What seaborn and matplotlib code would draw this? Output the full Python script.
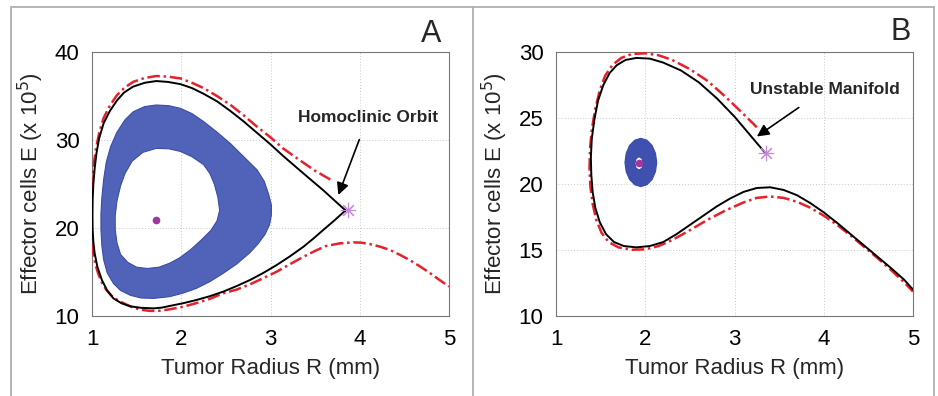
"""Phase portraits: homoclinic orbit (A) and unstable manifold (B)."""
import numpy as np
import matplotlib.pyplot as plt
import seaborn as sns
from matplotlib.path import Path
from matplotlib.patches import PathPatch
from matplotlib.lines import Line2D

# ---- panel A data (R in mm, E in 1e5 cells) ----
a_black_r = [3.84, 3.72, 3.59, 3.45, 3.3, 3.14, 3.0, 2.85, 2.7, 2.55, 2.4, 2.25, 2.12, 1.99,
             1.85, 1.72, 1.59, 1.46, 1.36, 1.28, 1.20, 1.13, 1.08, 1.05, 1.03, 1.015, 1.007,
             1.005, 1.007, 1.015, 1.03, 1.06, 1.11, 1.17, 1.24, 1.33, 1.43, 1.55, 1.69, 1.78,
             1.87, 2.02, 2.17, 2.32, 2.47, 2.62, 2.77, 2.92, 3.07, 3.22, 3.37, 3.48, 3.59, 3.72,
             3.84]
a_black_e = [22.0, 23.1, 24.3, 25.5, 26.8, 28.2, 29.5, 30.8, 32.1, 33.3, 34.4, 35.25, 35.9, 36.35,
             36.6, 36.7, 36.5, 36.06, 35.4, 34.5, 33.3, 31.9, 30.2, 28.5, 26.8, 25.0, 23.2,
             21.5, 19.8, 18.4, 17.1, 15.6, 14.1, 12.9, 12.0, 11.45, 11.1, 10.93, 10.87, 10.95,
             11.14, 11.45, 11.82, 12.25, 12.77, 13.4, 14.09, 14.9, 15.8, 16.8, 17.88, 18.8, 19.77,
             20.9, 22.0]
a_red_r = [3.67, 3.5, 3.3, 3.14, 3.0, 2.85, 2.7, 2.55, 2.4, 2.25, 2.12, 1.99, 1.85, 1.72, 1.59,
           1.46, 1.36, 1.28, 1.20, 1.13, 1.08, 1.04, 1.015, 1.0, 0.99, 0.99, 0.995, 1.005, 1.02,
           1.04, 1.07, 1.11, 1.16, 1.22, 1.28, 1.35, 1.45, 1.55, 1.65, 1.76, 1.87, 2.02, 2.17,
           2.32, 2.47, 2.62, 2.77, 2.92, 3.07, 3.22, 3.37, 3.5, 3.62, 3.78, 3.93, 4.02, 4.11,
           4.22, 4.34, 4.45, 4.56, 4.68, 4.79, 4.9, 5.0]
a_red_e = [25.5, 26.5, 27.9, 29.05, 30.3, 31.5, 32.8, 34.0, 35.0, 35.9, 36.5, 37.0, 37.2, 37.27,
           37.05, 36.6, 35.9, 35.1, 33.9, 32.5, 30.8, 28.8, 26.8, 25.0, 23.0, 21.0, 19.0, 17.8,
           16.8, 15.8, 14.8, 13.8, 12.96, 12.3, 11.85, 11.47, 11.0, 10.7, 10.58, 10.6, 10.76,
           11.05, 11.47, 11.95, 12.58, 13.0, 13.6, 14.3, 15.04, 15.9, 16.74, 17.4, 17.95, 18.26,
           18.37, 18.33, 18.18, 17.9, 17.5, 16.95, 16.36, 15.6, 14.85, 14.05, 13.35]
a_spiral_out_r = [1.72, 1.86, 1.99, 2.12, 2.25, 2.40, 2.55, 2.70, 2.85, 2.93, 2.98, 3.01, 3.01,
                  2.99, 2.94, 2.86, 2.77, 2.62, 2.47, 2.32, 2.17, 2.02, 1.87, 1.69, 1.55, 1.43,
                  1.32, 1.24, 1.17, 1.13, 1.11, 1.10, 1.10, 1.11, 1.13, 1.16, 1.21, 1.28, 1.37,
                  1.46, 1.59]
a_spiral_out_e = [33.98, 33.9, 33.6, 33.0, 32.1, 30.9, 29.6, 28.1, 26.6, 25.3, 23.8, 22.6, 21.5,
                  20.4, 19.3, 18.2, 17.2, 15.9, 14.85, 13.9, 13.14, 12.6, 12.2, 12.0, 12.05,
                  12.35, 12.9, 13.7, 14.9, 16.4, 18.0, 19.8, 21.6, 23.4, 25.5, 27.5, 29.3, 30.9,
                  32.3, 33.2, 33.8]
a_spiral_in_r = [1.72, 1.86, 1.99, 2.12, 2.25, 2.32, 2.37, 2.41, 2.43, 2.40, 2.33, 2.22, 2.10,
                 1.98, 1.87, 1.75, 1.62, 1.50, 1.40, 1.32, 1.28, 1.26, 1.26, 1.28, 1.32, 1.37,
                 1.45, 1.57]
a_spiral_in_e = [29.05, 29.0, 28.7, 28.1, 27.2, 26.2, 25.0, 23.5, 22.0, 20.8, 19.7, 18.6, 17.5,
                 16.6, 16.0, 15.55, 15.4, 15.55, 16.1, 17.0, 18.3, 19.8, 21.4, 23.1, 24.8, 26.2,
                 27.6, 28.6]
a_center = (1.72, 20.9)
a_saddle = (3.87, 22.05)

# ---- panel B data ----
b_black_r = [3.35, 3.2, 3.0, 2.8, 2.6, 2.4, 2.2, 2.05, 1.9, 1.78, 1.68, 1.6, 1.53, 1.47, 1.43,
             1.40, 1.39, 1.395, 1.41, 1.44, 1.49, 1.56, 1.65, 1.76, 1.9, 2.05, 2.2, 2.35, 2.5,
             2.65, 2.8, 2.95, 3.1, 3.25, 3.4, 3.55, 3.7, 3.85, 4.0, 4.15, 4.3, 4.45, 4.6, 4.75,
             4.9, 5.0]
b_black_e = [22.3, 23.5, 25.1, 26.5, 27.7, 28.6, 29.2, 29.5, 29.55, 29.4, 29.0, 28.4, 27.5, 26.3,
             24.9, 23.4, 22.0, 20.7, 19.4, 18.2, 17.1, 16.2, 15.6, 15.3, 15.2, 15.3, 15.6, 16.2,
             16.9, 17.6, 18.3, 18.9, 19.4, 19.7, 19.75, 19.55, 19.15, 18.55, 17.85, 17.05, 16.2,
             15.35, 14.5, 13.65, 12.75, 12.0]
b_red_r = [3.25, 3.1, 2.9, 2.7, 2.5, 2.3, 2.15, 2.0, 1.85, 1.73, 1.63, 1.55, 1.49, 1.44, 1.40,
           1.38, 1.375, 1.385, 1.41, 1.45, 1.51, 1.59, 1.7, 1.85, 2.0, 2.15, 2.3, 2.5, 2.7, 2.9,
           3.1, 3.25, 3.4, 3.55, 3.7, 3.85, 4.0, 4.15, 4.3, 4.45, 4.6, 4.75, 4.9, 5.0]
b_red_e = [24.3, 25.3, 26.6, 27.8, 28.7, 29.4, 29.75, 29.9, 29.85, 29.55, 29.0, 28.2, 27.1, 25.7,
           24.1, 22.6, 21.2, 19.8, 18.5, 17.3, 16.3, 15.6, 15.2, 15.02, 15.05, 15.3, 15.75, 16.5,
           17.3, 18.0, 18.6, 18.95, 19.05, 18.95, 18.65, 18.2, 17.6, 16.9, 16.1, 15.25, 14.4,
           13.5, 12.55, 11.85]
b_spiral_out_r = [1.95, 2.018, 2.076, 2.114, 2.128, 2.114, 2.076, 2.018, 1.95, 1.882, 1.824,
                  1.786, 1.772, 1.786, 1.824, 1.882]
b_spiral_out_e = [23.46, 23.32, 22.92, 22.33, 21.63, 20.93, 20.34, 19.94, 19.80, 19.94, 20.34,
                  20.93, 21.63, 22.33, 22.92, 23.32]
b_spiral_in_r = [1.93, 1.963, 1.978, 1.963, 1.93, 1.897, 1.884, 1.897]
b_spiral_in_e = [22.07, 21.92, 21.56, 21.2, 21.06, 21.2, 21.56, 21.92]
b_center = (1.933, 21.61)
b_saddle = (3.35, 22.33)

RED = "#e3222b"

sns.set_theme(style="white")
plt.rcParams["font.family"] = ["Liberation Sans", "DejaVu Sans"]

fig = plt.figure(figsize=(9.38, 3.96), dpi=100)
axA = fig.add_axes([0.0981, 0.202, 0.3806, 0.6667])
axB = fig.add_axes([0.5928, 0.202, 0.3806, 0.6667])


def spiral_band(ax, out_r, out_e, in_r, in_e, face, edge):
    outer = np.column_stack([out_r, out_e])
    inner = np.column_stack([in_r, in_e])[::-1]
    verts = np.vstack([outer, outer[:1], inner, inner[:1]])
    codes = ([Path.MOVETO] + [Path.LINETO] * (len(outer) - 1) + [Path.CLOSEPOLY]
             + [Path.MOVETO] + [Path.LINETO] * (len(inner) - 1) + [Path.CLOSEPOLY])
    ax.add_patch(PathPatch(Path(verts, codes), facecolor=face, edgecolor=edge,
                           lw=0.8, joinstyle="round", zorder=2))


def draw(ax, blk_r, blk_e, red_r, red_e, sp, center, saddle, face):
    spiral_band(ax, *sp, face=face, edge="#3b4ca8")
    sns.lineplot(x=red_r, y=red_e, sort=False, estimator=None, color=RED, lw=1.8,
                 linestyle=(0, (5, 1.5, 1, 1.5)), ax=ax, zorder=3)
    sns.lineplot(x=blk_r, y=blk_e, sort=False, estimator=None, color="black", lw=1.4,
                 ax=ax, zorder=4)
    ax.plot(*center, "o", color="#a2359e", ms=4.5, zorder=5)
    ax.plot(*saddle, marker=(8, 2, 0), color="#c488dc", ms=11, mew=0.8, zorder=5)


draw(axA, a_black_r, a_black_e, a_red_r, a_red_e,
     (a_spiral_out_r, a_spiral_out_e, a_spiral_in_r, a_spiral_in_e), a_center, a_saddle,
     "#5163b8")
draw(axB, b_black_r, b_black_e, b_red_r, b_red_e,
     (b_spiral_out_r, b_spiral_out_e, b_spiral_in_r, b_spiral_in_e), b_center, b_saddle,
     "#3f50ae")

axA.set_ylim(10, 40)
axA.set_yticks([10, 20, 30, 40])
axB.set_ylim(10, 30)
axB.set_yticks([10, 15, 20, 25, 30])

for ax in (axA, axB):
    ax.set_xlim(1, 5)
    ax.set_xticks([1, 2, 3, 4, 5])
    ax.grid(True, linestyle=(0, (1, 2)), color="#c8c8c8", lw=0.7)
    ax.set_axisbelow(True)
    for sp in ax.spines.values():
        sp.set_color("#777777")
        sp.set_linewidth(0.8)
    ax.tick_params(length=0, labelsize=16, colors="black", pad=9)
    ax.set_xlabel("Tumor Radius R (mm)", fontsize=16, labelpad=6)
    ax.set_ylabel("Effector cells E (x 10$^5$)", fontsize=16, labelpad=6)

arrow = dict(arrowstyle="-|>", color="black", lw=1.2, mutation_scale=18, shrinkA=9, shrinkB=0)
axA.annotate("Homoclinic Orbit", xy=(3.76, 23.75), xytext=(4.09, 32.6),
             ha="center", va="center", fontsize=12.5, fontweight="bold", arrowprops=arrow)
axB.annotate("Unstable Manifold", xy=(3.25, 23.6), xytext=(4.01, 27.15),
             ha="center", va="center", fontsize=12.5, fontweight="bold", arrowprops=arrow)

fig.text(431 / 938, 1 - 34 / 396, "A", fontsize=22, ha="center", va="center")
fig.text(901 / 938, 1 - 32 / 396, "B", fontsize=22, ha="center", va="center")

# panel frames
fcol = "#b0b0b0"
fx = [11 / 938, 473 / 938, 934 / 938]
ftop = 1 - 7 / 396
fig.add_artist(Line2D([fx[0], fx[2]], [ftop, ftop], color=fcol, lw=1.3))
for x in fx:
    fig.add_artist(Line2D([x, x], [0, ftop], color=fcol, lw=1.3))

fig.savefig("out.png", dpi=100)
